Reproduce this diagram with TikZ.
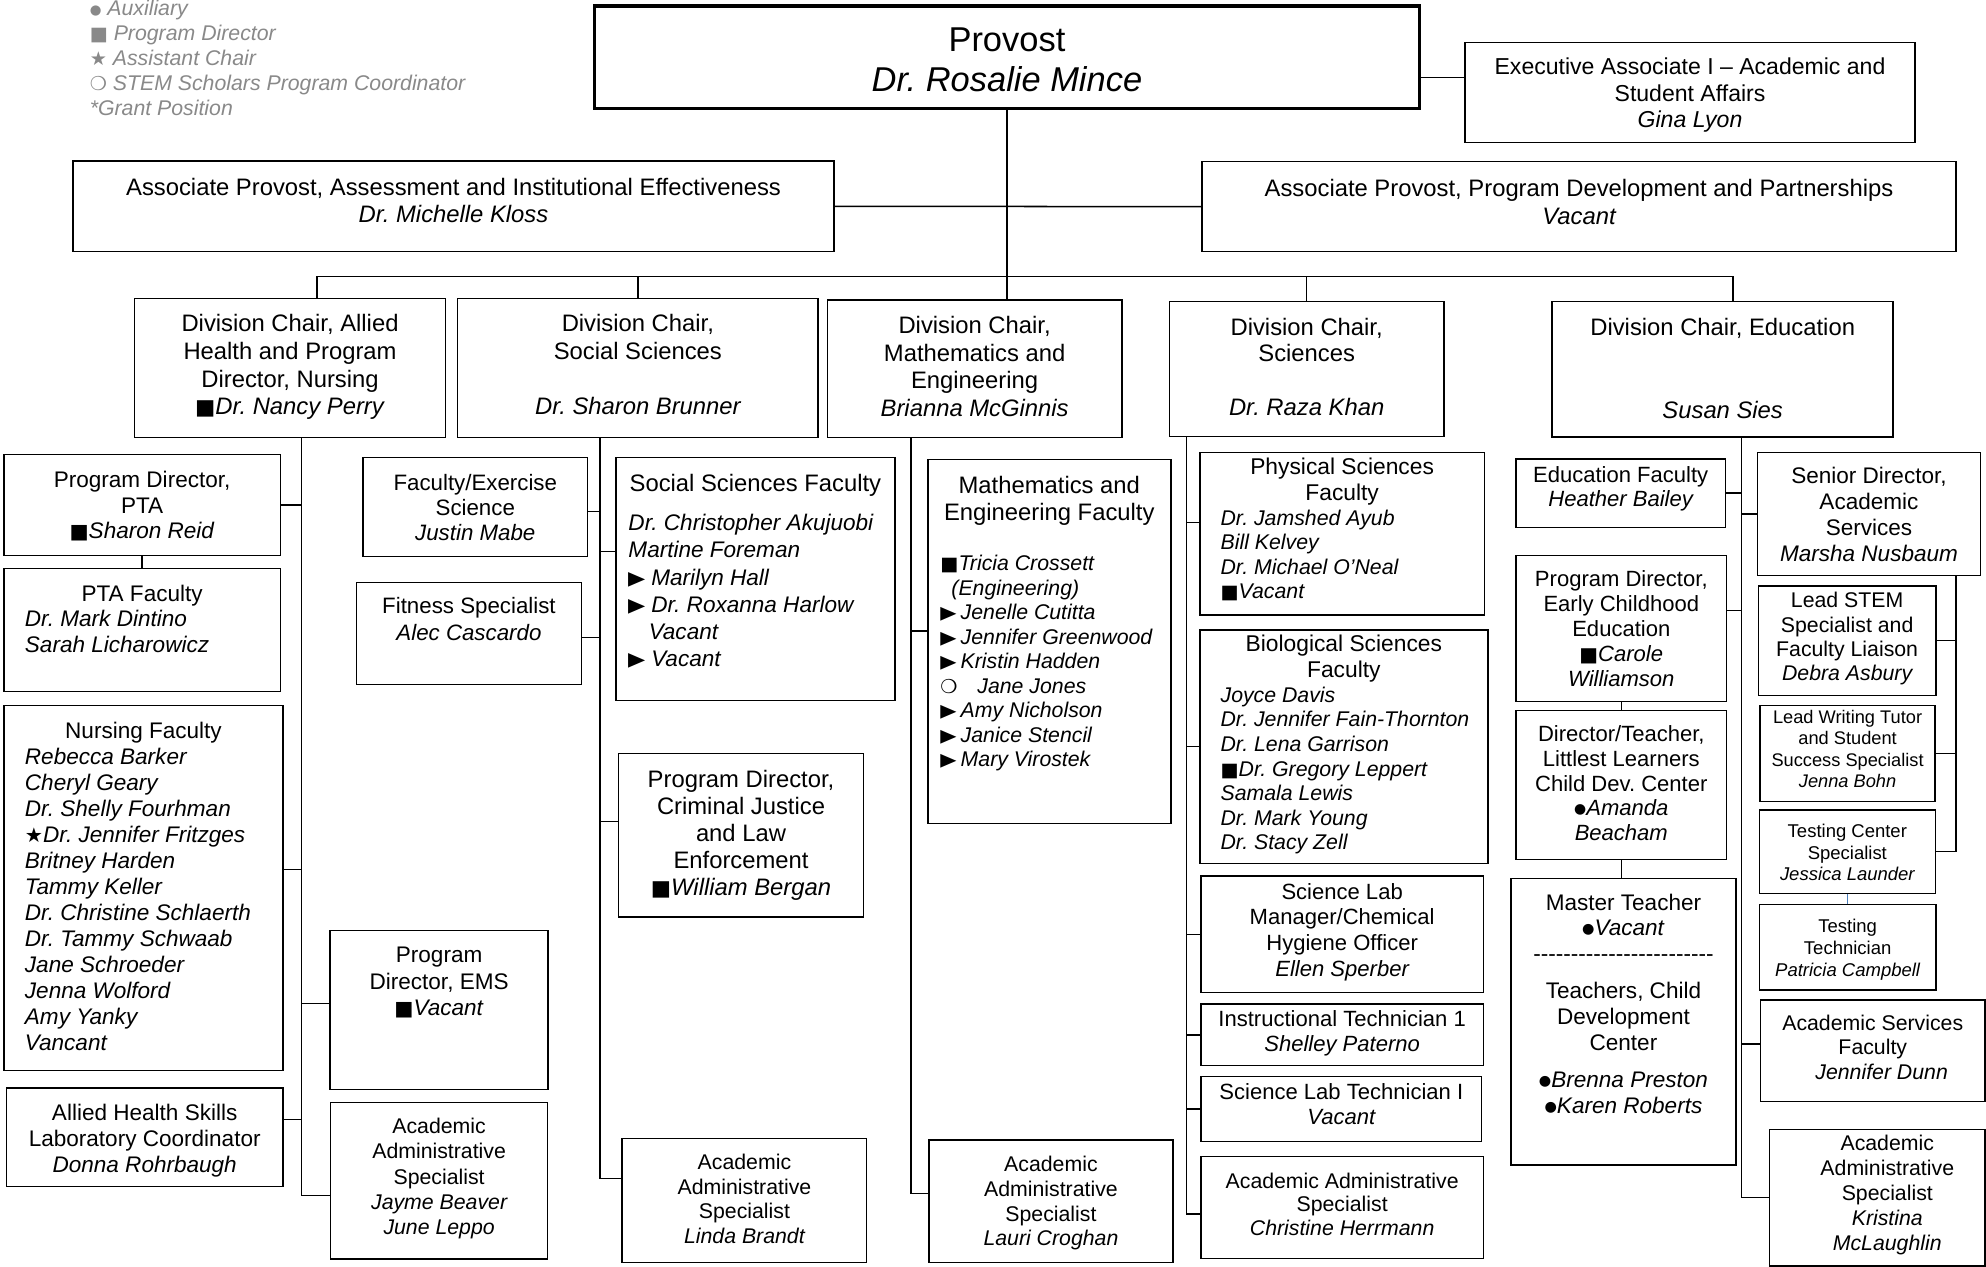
\documentclass[tikz,border=0pt]{standalone}
\usepackage{fontspec}
\usepackage{graphicx}
\setmainfont{Liberation Sans}
\newfontfamily\symfont[Scale=0.9]{DejaVu Sans}
\usepackage{tikz}
\definecolor{keygray}{RGB}{137,137,137}
\definecolor{linkblue}{RGB}{74,126,187}
\newlength{\unitpx}
\setlength{\unitpx}{0.5pt}
\newcommand{\fsz}[2]{\fontsize{#1}{#2}\selectfont}
\newcommand{\postbox}[4]{\parbox[c][#2\unitpx][t]{#1\unitpx}{\centering\rule{0pt}{#3\unitpx}#4}}
\newcommand{\mkpd}{{\symfont\upshape ■}}
\newcommand{\mkstar}{{\symfont\upshape ★}}
\newcommand{\mkstem}{{\symfont\upshape ❍}}
\newcommand{\mkaux}{{\symfont\upshape\raisebox{0.1em}{\scalebox{0.7}{●}}}}
\newcommand{\mkarrow}[1][9pt]{\makebox[#1][l]{\symfont\upshape\raisebox{-0.1em}{\scalebox{1.1}[1.45]{►}}}}
\newcommand{\dashrow}{\foreach \k in {1,...,24}{-}}
\tikzstyle{post} = [rectangle, draw=black, line width=0.6pt, inner sep=0pt]
\tikzstyle{headpost} = [post, line width=1.3pt]
\tikzstyle{link} = [line width=0.6pt]
\tikzstyle{bluelink} = [line width=0.6pt, draw=linkblue]

\begin{document}
\frenchspacing
\begin{tikzpicture}[x=0.5pt, y=-0.5pt]
\useasboundingbox (0,0) rectangle (1568,1000.3);

\node (key) [inner sep=0pt, anchor=north west, text=keygray] at (70.5,0) {\parbox[t]{300\unitpx}{\raggedright\rule{0pt}{11\unitpx}\fsz{8.4}{9.8}\itshape \mkaux\ Auxiliary\\ \mkpd\ Program Director\\ \mkstar\ Assistant Chair\\ \mkstem\ STEM Scholars Program Coordinator\\ \mbox{*}Grant Position}};

\node (provost) [headpost] at (795,45.15) {\postbox{651.2}{80.9}{35.8}{\fsz{13.6}{16}Provost\\ \itshape Dr. Rosalie Mince}};
\node (exec) [post] at (1334.3,73) {\postbox{355.4}{79.2}{25.6}{\fsz{9.1}{10.5}Executive Associate I – Academic and\\ Student Affairs\\ \itshape Gina Lyon}};
\node (assess) [post] at (358.05,162.9) {\postbox{601.1}{71.7}{27}{\fsz{9.4}{10.8}Associate Provost, Assessment and Institutional Effectiveness\\ \itshape Dr. Michelle Kloss}};
\node (progdev) [post] at (1246.65,163.15) {\postbox{595.3}{71.1}{27.7}{\fsz{9.4}{10.8}Associate Provost, Program Development and Partnerships\\ \itshape Vacant}};

\node (alliedchair) [post] at (229,290.55) {\postbox{245.4}{110.1}{26.4}{\fsz{9.4}{10.95}Division Chair, Allied\\ Health and Program\\ Director, Nursing\\ \mkpd\textit{Dr. Nancy Perry}}};
\node (socialchair) [post] at (503.6,290.55) {\postbox{284.6}{110.1}{26.4}{\fsz{9.4}{10.95}Division Chair,\\ Social Sciences\\[10.95pt] \itshape Dr. Sharon Brunner}};
\node (mathchair) [post] at (769.5,291.25) {\postbox{232.6}{108.7}{26.3}{\fsz{9.4}{10.95}Division Chair,\\ Mathematics and\\ Engineering\\ \itshape Brianna McGinnis}};
\node (scichair) [post] at (1031.65,291.5) {\postbox{216.9}{106.6}{26.3}{\fsz{9.4}{10.55}Division Chair,\\ Sciences\\[10.55pt] \itshape Dr. Raza Khan}};
\node (educhair) [post] at (1360.1,291.6) {\postbox{269.2}{106.8}{26.4}{\fsz{9.4}{10.95}Division Chair, Education\\[21.9pt] \itshape Susan Sies}};

\node (ptapd) [post] at (112.2,398.7) {\postbox{218.2}{80}{26.5}{\fsz{8.9}{10}Program Director,\\ PTA\\ \mkpd\textit{Sharon Reid}}};
\node (ptafac) [post] at (112.2,497.4) {\postbox{218.2}{97.4}{25.9}{\fsz{8.9}{10.2}PTA Faculty\par\raggedright\leftskip=16.6\unitpx\relax\itshape Dr. Mark Dintino\\ Sarah Licharowicz}};
\node (nursing) [post] at (113.3,701.15) {\postbox{220.4}{288.3}{26.1}{\fsz{8.9}{10.27}Nursing Faculty\par\raggedright\leftskip=16.6\unitpx\relax\itshape Rebecca Barker\\ Cheryl Geary\\ Dr. Shelly Fourhman\\ \mkstar Dr. Jennifer Fritzges\\ Britney Harden\\ Tammy Keller\\ Dr. Christine Schlaerth\\ Dr. Tammy Schwaab\\ Jane Schroeder\\ Jenna Wolford\\ Amy Yanky\\ Vancant}};
\node (skills) [post] at (114.25,897.85) {\postbox{218.5}{77.7}{25.4}{\fsz{8.9}{10.35}Allied Health Skills\\ Laboratory Coordinator\\ \itshape Donna Rohrbaugh}};
\node (ems) [post] at (346.7,797.4) {\postbox{172}{125.6}{25.6}{\fsz{8.9}{10.35}Program\\ Director, EMS\\ \mkpd\textit{Vacant}}};
\node (jayme) [post] at (346.7,932.1) {\postbox{171.4}{123.4}{24.8}{\fsz{8.4}{9.9}Academic\\ Administrative\\ Specialist\\ \itshape Jayme Beaver\\ June Leppo}};

\node (facex) [post] at (375.25,400.4) {\postbox{177.3}{78.2}{25.9}{\fsz{8.8}{9.8}Faculty/Exercise\\ Science\\ \itshape Justin Mabe}};
\node (fitness) [post] at (370.25,500.05) {\postbox{177.9}{80.5}{24.7}{\fsz{8.8}{10.5}Fitness Specialist\\ \itshape Alec Cascardo}};
\node (socfac) [post] at (596.4,457.25) {\postbox{220.2}{191.9}{26.9}{\fsz{9.4}{10.73}Social Sciences Faculty\par\vspace{4.67pt}\raggedright\leftskip=9.9\unitpx\relax\fsz{8.9}{10.73}\itshape Dr. Christopher Akujuobi\\ Martine Foreman\\ \mkarrow Marilyn Hall\\ \mkarrow Dr. Roxanna Harlow\\ \hspace*{8pt}Vacant\\ \mkarrow Vacant}};
\node (crimjus) [post] at (585.05,659.4) {\postbox{193.1}{129.2}{26.6}{\fsz{9.4}{10.75}Program Director,\\ Criminal Justice\\ and Law\\ Enforcement\\ \mkpd\textit{William Bergan}}};
\node (linda) [post] at (587.75,947.8) {\postbox{193.1}{98.2}{24.5}{\fsz{8.4}{9.75}Academic\\ Administrative\\ Specialist\\ \itshape Linda Brandt}};

\node (mathfac) [post] at (828.45,506.3) {\postbox{191.9}{287.4}{26.9}{\fsz{9.4}{10.55}Mathematics and\\ Engineering Faculty\par\vspace{10.45pt}\raggedright\leftskip=10\unitpx\relax\fsz{8.4}{9.65}\itshape \mkpd Tricia Crossett\\ \hspace*{4.35pt}(Engineering)\\ \mkarrow[8pt]Jenelle Cutitta\\ \mkarrow[8pt]Jennifer Greenwood\\ \mkarrow[8pt]Kristin Hadden\\ \makebox[14.6pt][l]{\mkstem}Jane Jones\\ \mkarrow[8pt]Amy Nicholson\\ \mkarrow[8pt]Janice Stencil\\ \mkarrow[8pt]Mary Virostek}};
\node (lauri) [post] at (829.75,948.45) {\postbox{192.5}{96.9}{25.1}{\fsz{8.4}{9.75}Academic\\ Administrative\\ Specialist\\ \itshape Lauri Croghan}};

\node (physfac) [post] at (1059.65,421.3) {\postbox{224.5}{128.4}{17.9}{\fsz{9}{10.25}Physical Sciences\\ Faculty\par\raggedright\leftskip=16.3\unitpx\relax\fsz{8.4}{9.65}\itshape Dr. Jamshed Ayub\\ Bill Kelvey\\ Dr. Michael O’Neal\\ \mkpd Vacant}};
\node (biofac) [post] at (1061,589.5) {\postbox{227.2}{184.2}{17.1}{\fsz{9}{10.25}Biological Sciences\\ Faculty\par\raggedright\leftskip=16.3\unitpx\relax\fsz{8.4}{9.72}\itshape Joyce Davis\\ Dr. Jennifer Fain-Thornton\\ Dr. Lena Garrison\\ \mkpd Dr. Gregory Leppert\\ Samala Lewis\\ Dr. Mark Young\\ Dr. Stacy Zell}};
\node (labmgr) [post] at (1059.65,737.65) {\postbox{222.9}{92.1}{18.3}{\fsz{8.7}{10.2}Science Lab\\ Manager/Chemical\\ Hygiene Officer\\ \itshape Ellen Sperber}};
\node (instrtech) [post] at (1059.65,817.05) {\postbox{222.9}{48.7}{18}{\fsz{8.7}{9.75}Instructional Technician 1\\ \itshape Shelley Paterno}};
\node (labtech) [post] at (1059,875.7) {\postbox{221.6}{51.4}{17.8}{\fsz{8.7}{9.85}Science Lab Technician I\\ \itshape Vacant}};
\node (christine) [post] at (1059.65,953.35) {\postbox{222.9}{80.3}{25.2}{\fsz{8.4}{9.2}Academic Administrative\\ Specialist\\ \itshape Christine Herrmann}};

\node (edufac) [post] at (1279.55,389.35) {\postbox{165.3}{53.9}{18.5}{\fsz{8.7}{9.6}Education Faculty\\ \itshape Heather Bailey}};
\node (senior) [post] at (1475.6,405.8) {\postbox{176.4}{96.8}{24.4}{\fsz{8.9}{10.25}Senior Director,\\ Academic\\ Services\\ \itshape Marsha Nusbaum}};
\node (pdece) [post] at (1280.05,496.25) {\postbox{166.3}{115.5}{24.8}{\fsz{8.7}{9.8}Program Director,\\ Early Childhood\\ Education\\ \mkpd\textit{Carole}\\ \itshape Williamson}};
\node (dirteach) [post] at (1280.05,619.8) {\postbox{166.3}{117.4}{24.3}{\fsz{8.7}{9.8}Director/Teacher,\\ Littlest Learners\\ Child Dev. Center\\ \mkaux\textit{Amanda}\\ \itshape Beacham}};
\node (master) [post] at (1281.75,806.65) {\postbox{177.7}{226.3}{25.2}{\fsz{8.9}{10.1}Master Teacher\\ \mkaux\textit{Vacant}\\ \dashrow\\[4.65pt] Teachers, Child\\ Development\\ Center\\[4.7pt] \itshape\mkaux Brenna Preston\\ \mkaux Karen Roberts}};
\node (leadstem) [post] at (1458.35,505.85) {\postbox{140.3}{86.3}{17}{\fsz{8.4}{9.65}Lead STEM\\ Specialist and\\ Faculty Liaison\\ \itshape Debra Asbury}};
\node (leadwrite) [post] at (1458.7,595) {\postbox{138.2}{75.8}{14}{\fsz{7.2}{8.45}Lead Writing Tutor\\ and Student\\ Success Specialist\\ \itshape Jenna Bohn}};
\node (testcenter) [post] at (1458.5,672.4) {\postbox{139}{65.8}{22}{\fsz{7.3}{8.5}Testing Center\\ Specialist\\ \itshape Jessica Launder}};
\node (testtech) [post] at (1458.75,747.8) {\postbox{139.5}{67.6}{22.5}{\fsz{7.3}{8.55}Testing\\ Technician\\ \itshape Patricia Campbell}};
\node (acadserv) [post] at (1478.6,829.65) {\postbox{177.2}{80.3}{24}{\fsz{8.4}{9.65}Academic Services\\ Faculty\\ \hspace*{14\unitpx}\itshape Jennifer Dunn}};
\node (kristina) [post] at (1482.05,945.55) {\postbox{170.3}{107.9}{16.6}{\advance\leftskip by 16\unitpx\relax\fsz{8.4}{9.85}Academic\\ Administrative\\ Specialist\\ \itshape Kristina\\ McLaughlin}};

% bus and spine points
\coordinate (busL) at (250.1,218.4);
\coordinate (busR) at (1368.4,218.4);
\coordinate (aspine) at (238.2,345.6);
\coordinate (sspine) at (473.6,345.6);
\coordinate (mspine) at (719.1,345.6);
\coordinate (cspine) at (936.9,344.8);
\coordinate (espine) at (1375.1,345);
\coordinate (dspine) at (1544.3,454.2);

\draw [link] ([yshift=6pt]exec.west) -- ([yshift=6pt]exec.west -| provost.east);
\draw [link] (assess.east) -- (progdev.west);
\draw [link] (provost.south) -- (provost.south |- mathchair.north);
\draw [link] (busL |- alliedchair.north) |- (busR) -- (busR |- educhair.north);
\draw [link] (socialchair.north) -- (socialchair.north |- busL);
\draw [link] (scichair.north) -- (scichair.north |- busL);

\draw [link] (aspine) |- ([yshift=-5.9pt]jayme.west);
\draw [link] (ptapd.east) -- (ptapd.east -| aspine);
\draw [link] (ptapd.south) -- (ptapd.south |- ptafac.north);
\draw [link] ([yshift=7.4pt]nursing.east) -- ([yshift=7.4pt]nursing.east -| aspine);
\draw [link] ([yshift=7pt]skills.east) -- ([yshift=7pt]skills.east -| aspine);
\draw [link] ([yshift=2.5pt]ems.west) -- ([yshift=2.5pt]ems.west -| aspine);

\draw [link] (sspine) |- ([yshift=8.6pt]linda.west);
\draw [link] ([yshift=-1.8pt]facex.east) -- ([yshift=-1.8pt]facex.east -| sspine);
\draw [link] ([yshift=-1.6pt]fitness.east) -- ([yshift=-1.6pt]fitness.east -| sspine);
\draw [link] ([yshift=10.9pt]socfac.west) -- ([yshift=10.9pt]socfac.west -| sspine);
\draw [link] ([yshift=5.35pt]crimjus.west) -- ([yshift=5.35pt]crimjus.west -| sspine);

\draw [link] (mspine) |- ([yshift=3pt]lauri.west);
\draw [link] ([yshift=4pt]mathfac.west) -- ([yshift=4pt]mathfac.west -| mspine);

\draw [link] (cspine) |- ([yshift=-2.6pt]christine.west);
\draw [link] ([yshift=4.3pt]physfac.west) -- ([yshift=4.3pt]physfac.west -| cspine);
\draw [link] (biofac.west) -- (biofac.west -| cspine);
\draw [link] (labmgr.west) -- (labmgr.west -| cspine);
\draw [link] (instrtech.west) -- (instrtech.west -| cspine);
\draw [link] (labtech.west) -- (labtech.west -| cspine);

\draw [link] (espine) |- (kristina.west);
\draw [link] (edufac.east) -- (edufac.east -| espine);
\draw [link] (senior.west) -- (senior.west -| espine);
\draw [link] ([yshift=7.1pt]pdece.east) -- ([yshift=7.1pt]pdece.east -| espine);
\draw [link] ([yshift=2.6pt]acadserv.west) -- ([yshift=2.6pt]acadserv.west -| espine);
\draw [link] (pdece.south) -- (pdece.south |- dirteach.north);
\draw [link] (dirteach.south) -- (dirteach.south |- master.north);

\draw [link] (dspine) |- (testcenter.east);
\draw [link] (leadstem.east) -- (leadstem.east -| dspine);
\draw [link] (leadwrite.east) -- (leadwrite.east -| dspine);
\draw [bluelink] (testcenter.south) -- (testcenter.south |- testtech.north);

\end{tikzpicture}
\end{document}
